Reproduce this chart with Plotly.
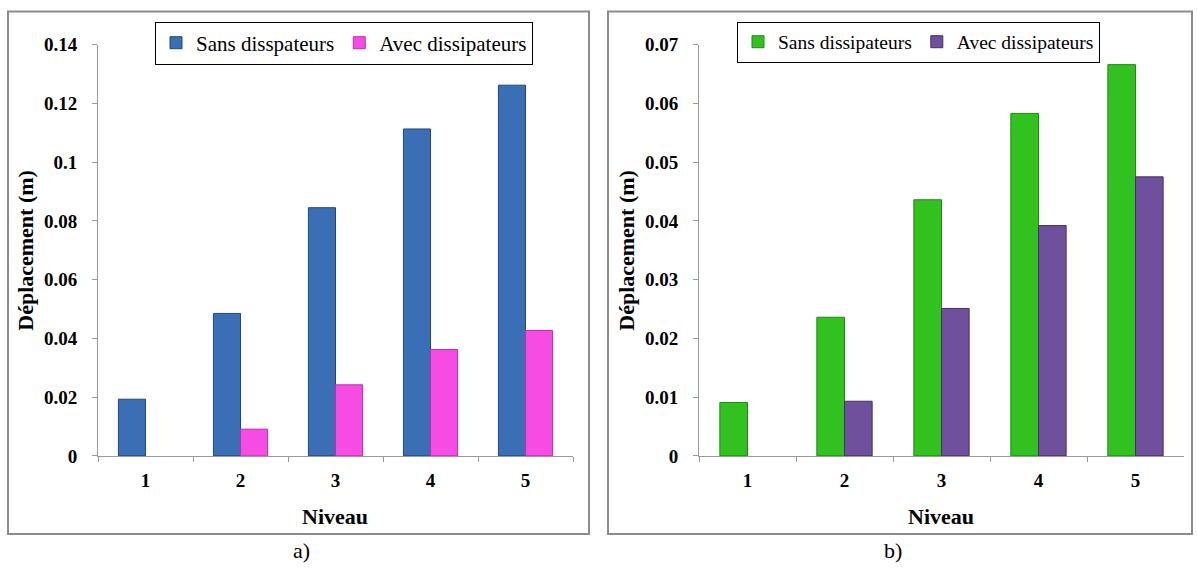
import plotly.graph_objects as go

W, H = 1197, 568

niveaux = ["1", "2", "3", "4", "5"]
sans_a = [0.0193, 0.0485, 0.0845, 0.1113, 0.1262]
avec_a = [None, 0.0091, 0.0242, 0.0362, 0.0427]
sans_b = [0.0091, 0.0236, 0.0436, 0.0583, 0.0666]
avec_b = [None, 0.0093, 0.0251, 0.0392, 0.0475]
yticks_a = [0, 0.02, 0.04, 0.06, 0.08, 0.1, 0.12, 0.14]
yticks_b = [0, 0.01, 0.02, 0.03, 0.04, 0.05, 0.06, 0.07]

SERIF = "Liberation Serif, Times New Roman, serif"

def px(x):
    return x / W

def py(y):
    return 1 - y / H

fig = go.Figure()

fig.add_trace(go.Bar(x=niveaux, y=sans_a, name="Sans disspateurs", xaxis="x", yaxis="y",
                     marker=dict(color="#3A6FB5", line=dict(color="#23467A", width=1)),
                     legend="legend"))
fig.add_trace(go.Bar(x=niveaux, y=avec_a, name="Avec dissipateurs", xaxis="x", yaxis="y",
                     marker=dict(color="#F64CE4", line=dict(color="#B82FA8", width=1)),
                     legend="legend"))
fig.add_trace(go.Bar(x=niveaux, y=sans_b, name="Sans dissipateurs", xaxis="x2", yaxis="y2",
                     marker=dict(color="#31C21F", line=dict(color="#1E8A12", width=1)),
                     legend="legend2"))
fig.add_trace(go.Bar(x=niveaux, y=avec_b, name="Avec dissipateurs", xaxis="x2", yaxis="y2",
                     marker=dict(color="#6F509C", line=dict(color="#45305F", width=1)),
                     legend="legend2"))

axis_common = dict(showgrid=False, zeroline=False, showline=True, linecolor="#9A9A9A",
                   linewidth=1, ticks="outside", ticklen=5, tickcolor="#9A9A9A",
                   tickfont=dict(family=SERIF, size=19, color="black", weight="bold"))

legend_common = dict(xanchor="left", yanchor="top", orientation="h",
                     bordercolor="black", borderwidth=1, bgcolor="white",
                     itemwidth=30, tracegroupgap=0)

TOP, BOT = 36, 463

fig.update_layout(
    width=W, height=H,
    margin=dict(l=0, r=0, t=0, b=0),
    paper_bgcolor="white", plot_bgcolor="white",
    barmode="group", bargap=0.43, bargroupgap=0,
    font=dict(family=SERIF, color="black"),
    xaxis=dict(domain=[px(98), px(573)], anchor="y", type="category",
               tickson="boundaries", ticklabelstandoff=7, **axis_common),
    yaxis=dict(domain=[py(BOT), py(TOP)], anchor="x", range=[0, 0.14],
               tickvals=yticks_a, ticklabelstandoff=11, **axis_common),
    xaxis2=dict(domain=[px(699), px(1184)], anchor="y2", type="category",
                tickson="boundaries", ticklabelstandoff=7, **axis_common),
    yaxis2=dict(domain=[py(BOT), py(TOP)], anchor="x2", range=[0, 0.07],
                tickvals=yticks_b, ticklabelstandoff=11, **axis_common),
    legend=dict(x=px(155), y=py(12), font=dict(family=SERIF, size=21, color="black"),
                **legend_common),
    legend2=dict(x=px(737), y=py(12), font=dict(family=SERIF, size=19.5, color="black"),
                 **legend_common),
    showlegend=True,
)

# panel frames
fig.add_shape(type="rect", xref="paper", yref="paper", x0=px(8), x1=px(589), y0=py(544), y1=py(1.5),
              line=dict(color="#8C8C8C", width=2))
fig.add_shape(type="rect", xref="paper", yref="paper", x0=px(608), x1=px(1192), y0=py(544), y1=py(1.5),
              line=dict(color="#8C8C8C", width=2))

title_font = dict(family=SERIF, size=22, color="black", weight="bold")
anns = [
    dict(text="Déplacement (m)", x=px(26), y=py(250), textangle=-90, font=title_font),
    dict(text="Déplacement (m)", x=px(627), y=py(250), textangle=-90, font=title_font),
    dict(text="Niveau", x=px(335), y=py(526), font=title_font),
    dict(text="Niveau", x=px(941), y=py(526), font=title_font),
    dict(text="a)", x=px(301), y=py(561), font=dict(family=SERIF, size=22, color="black")),
    dict(text="b)", x=px(893), y=py(561), font=dict(family=SERIF, size=22, color="black")),
]
for a in anns:
    fig.add_annotation(xref="paper", yref="paper", showarrow=False, xanchor="center",
                       yanchor="middle", **a)

fig.write_html("out.html", config={"displayModeBar": False},
               post_script="document.body.style.margin='0';document.body.style.overflow='hidden';")
